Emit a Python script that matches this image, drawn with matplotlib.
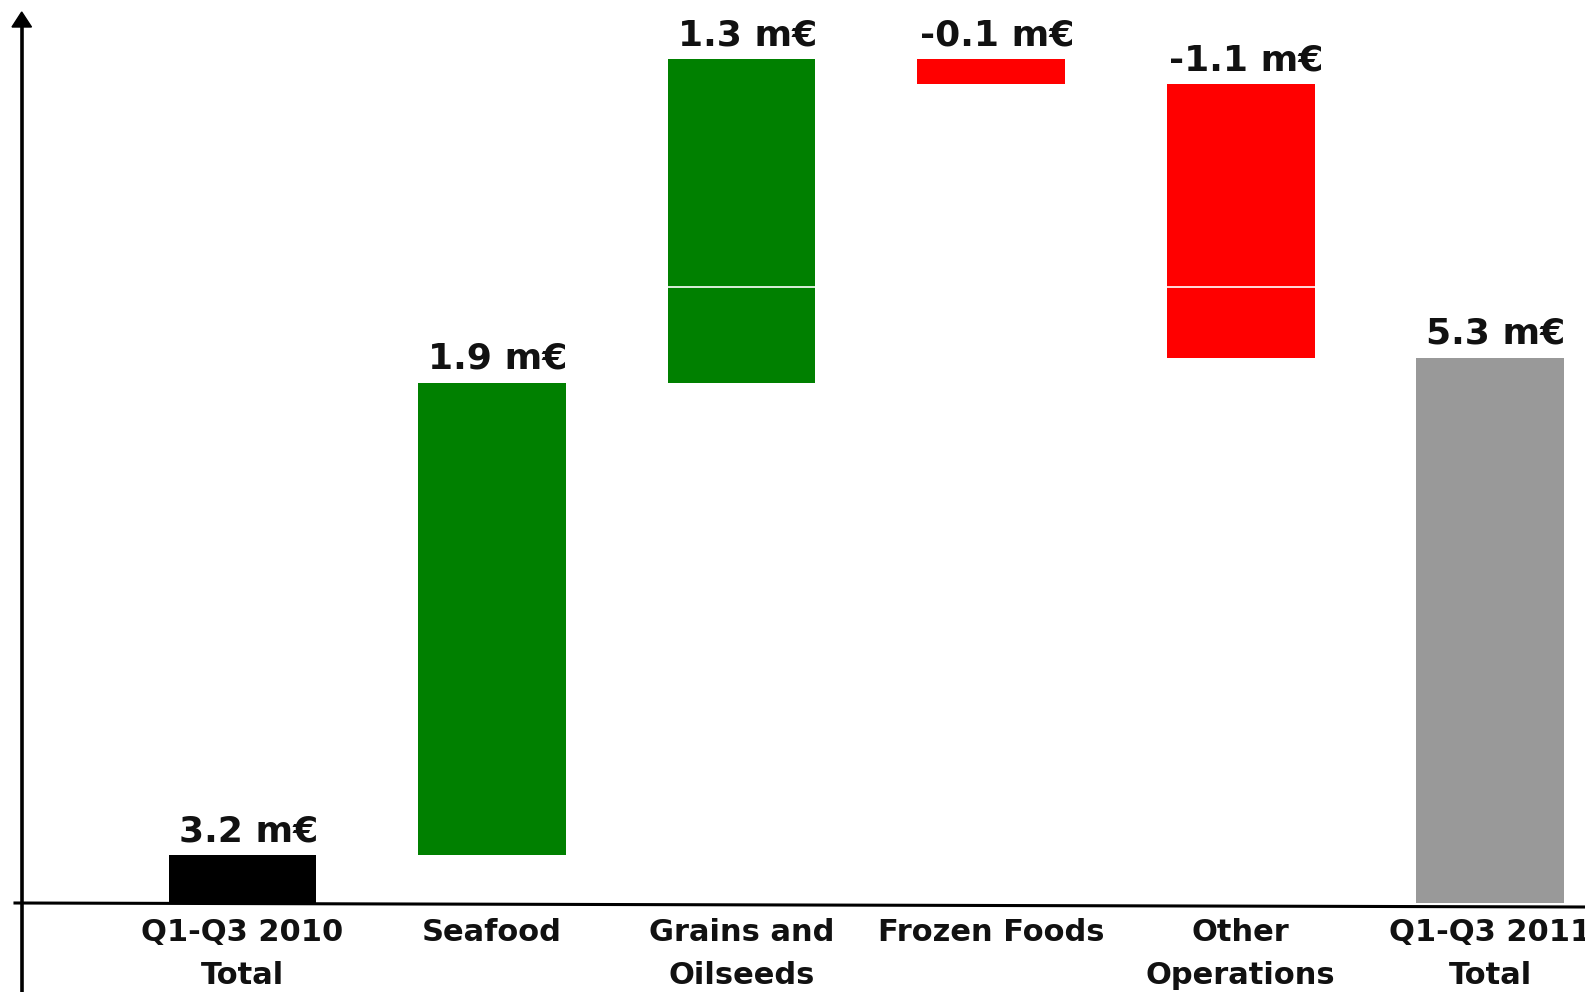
import matplotlib
matplotlib.use("Agg")
import matplotlib.pyplot as plt
from matplotlib.lines import Line2D
from matplotlib.patches import Polygon
import numpy as np

plt.rcParams['font.family'] = ['DejaVu Sans']

categories = ["Q1-Q3 2010\nTotal", "Seafood", "Grains and\nOilseeds",
              "Frozen Foods", "Other\nOperations", "Q1-Q3 2011\nTotal"]
start_total = 3.2
deltas = [1.9, 1.3, -0.1, -1.1]
end_total_label = 5.3

W, H = 1585, 992
fig = plt.figure(figsize=(W / 100, H / 100), dpi=100)
ax = fig.add_axes([21 / W, 1 - 903 / H, 1 - 21 / W, (903 - 12) / H])

ymin, ymax = 3.009, 6.59
ax.set_xlim(-0.888, 5.380)
ax.set_ylim(ymin, ymax)
for s in ax.spines.values():
    s.set_visible(False)
ax.set_yticks([])

x = np.arange(len(categories))
bw = 0.592

# waterfall geometry from values
cum = start_total
bottoms, heights, colors, labels, label_y = [], [], [], [], []
bottoms.append(ymin); heights.append(start_total - ymin); colors.append('#000000')
labels.append(start_total); label_y.append(start_total)
for d in deltas:
    bottoms.append(cum); heights.append(d)
    colors.append('#008000' if d >= 0 else '#FF0000')
    labels.append(d); label_y.append(max(cum, cum + d))
    cum += d
bottoms.append(ymin); heights.append(cum - ymin); colors.append('#999999')
labels.append(end_total_label); label_y.append(cum)

ax.bar(x, heights, bottom=bottoms, width=bw, color=colors, zorder=2)
ax.axhline(5.485, color='white', lw=1.2, zorder=3)

for xi, v, yv in zip(x, labels, label_y):
    ax.annotate(f"{v:.1f} m€", (xi, yv), xytext=(4, 5), textcoords='offset points',
                ha='center', va='bottom', fontsize=26, fontweight='bold',
                color='#111111', annotation_clip=False)

ax.set_xticks(x, categories)
ax.tick_params(axis='x', length=0, pad=11)
for t in ax.get_xticklabels():
    t.set_fontsize(22)
    t.set_fontweight('bold')
    t.set_linespacing(1.6)
    t.set_color('#111111')

# axes lines
fig.add_artist(Line2D([15 / W, 1.0], [1 - 903 / H, 1 - 907 / H], color='black', lw=2.2))
fig.add_artist(Line2D([21.5 / W, 21.5 / W], [0, 1 - 26 / H], color='black', lw=2.6))
fig.add_artist(Polygon([[12 / W, 1 - 27 / H], [31.5 / W, 1 - 27 / H], [21.7 / W, 1 - 12 / H]],
                       closed=True, color='black'))

fig.savefig("out.png", dpi=100)
